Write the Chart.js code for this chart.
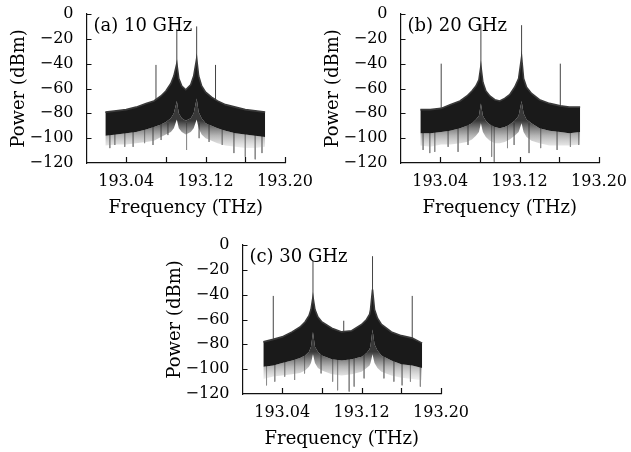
<!DOCTYPE html>
<html>
<head>
<meta charset="utf-8">
<script src="https://cdn.jsdelivr.net/npm/chart.js@4.4.1/dist/chart.umd.min.js"></script>
<style>
  html, body { margin: 0; padding: 0; background: #fff; overflow: hidden; }
  body { width: 631px; height: 452px; position: relative; }
  canvas { position: absolute; }
</style>
</head>
<body>
<canvas id="chartA" width="322" height="223" style="left:0px;top:0px"></canvas>
<canvas id="chartB" width="322" height="223" style="left:314px;top:0px"></canvas>
<canvas id="chartC" width="322" height="223" style="left:156px;top:231px"></canvas>
<script>
// (a) 10 GHz - envelope of the noisy spectrum
const freqA  = [193.019, 193.030, 193.040, 193.050, 193.060, 193.068, 193.075, 193.080, 193.085, 193.088, 193.091, 193.093, 193.096, 193.100, 193.105, 193.108, 193.111, 193.113, 193.116, 193.120, 193.126, 193.132, 193.140, 193.150, 193.160, 193.170, 193.180];
const upperA = [-79, -78, -77, -75, -72, -70, -66, -62, -56, -50, -40, -52, -58, -61, -57, -50, -36, -50, -58, -63, -67, -70, -73, -75, -77, -78, -79];
const lowerA = [-98, -97, -96, -95, -93, -91, -89, -87, -84, -80, -70, -80, -84, -86, -84, -80, -68, -79, -84, -88, -90, -92, -94, -96, -97, -98, -99];
const dipA   = [-106, -105, -105, -104, -103, -102, -99, -97, -95, -92, -85, -92, -95, -97, -95, -92, -85, -92, -97, -100, -102, -104, -106, -107, -108, -108, -107];
const spikeFreqA = [193.070, 193.091, 193.111, 193.130];
const spikeTopA  = [-41, -12, -10, -41];
const deepFreqA  = [193.0235, 193.0285, 193.0385, 193.047, 193.0585, 193.067, 193.0752, 193.082, 193.1008, 193.1135, 193.1235, 193.1368, 193.1485, 193.160, 193.170, 193.1768];
const deepA      = [-108, -105.5, -107, -107, -104, -105.5, -101.5, -97.5, -109.5, -100, -103, -105.5, -112, -115, -117, -112];

// (b) 20 GHz
const freqB  = [193.020, 193.030, 193.041, 193.050, 193.060, 193.067, 193.072, 193.076, 193.079, 193.081, 193.083, 193.086, 193.090, 193.095, 193.100, 193.105, 193.110, 193.115, 193.119, 193.122, 193.124, 193.127, 193.132, 193.140, 193.150, 193.161, 193.170, 193.181];
const upperB = [-77, -77, -76, -73, -70, -66, -62, -58, -53, -42, -55, -62, -66, -69, -70, -68, -65, -59, -52, -35, -52, -59, -64, -69, -72, -74, -75, -75];
const lowerB = [-96, -96, -95, -94, -92, -90, -88, -85, -82, -72, -82, -86, -89, -91, -92, -91, -89, -86, -82, -70, -80, -85, -88, -92, -94, -95, -96, -95];
const dipB   = [-106, -107, -105, -105, -104, -103, -101, -98, -95, -88, -95, -99, -102, -104, -104, -103, -101, -98, -95, -88, -95, -99, -102, -104, -106, -106, -106, -105];
const spikeFreqB = [193.041, 193.081, 193.122, 193.161];
const spikeTopB  = [-40, -8, -9, -40];
const deepFreqB  = [193.0228, 193.0295, 193.0345, 193.048, 193.058, 193.068, 193.0918, 193.0945, 193.1078, 193.1145, 193.1295, 193.1412, 193.1578, 193.1712, 193.1795];
const deepB      = [-109.5, -112, -111, -107, -111, -105.5, -115, -119, -108, -105.5, -112, -108, -109.5, -107, -105.5];

// (c) 30 GHz
const freqC  = [193.021, 193.031, 193.040, 193.050, 193.058, 193.063, 193.067, 193.069, 193.071, 193.073, 193.076, 193.080, 193.090, 193.100, 193.110, 193.120, 193.125, 193.128, 193.129, 193.131, 193.133, 193.136, 193.140, 193.150, 193.160, 193.171, 193.181];
const upperC = [-78, -76, -74, -70, -66, -62, -57, -52, -42, -52, -58, -62, -67, -70, -69, -64, -60, -56, -52, -36, -52, -59, -64, -70, -73, -75, -79];
const lowerC = [-98, -97, -95, -93, -91, -89, -86, -82, -70, -82, -86, -89, -92, -93, -92, -90, -87, -84, -81, -68, -80, -85, -89, -93, -96, -97, -99];
const dipC   = [-108, -106, -105, -104, -103, -101, -98, -95, -88, -95, -99, -101, -104, -105, -104, -102, -99, -97, -95, -88, -95, -99, -102, -105, -107, -108, -109];
const spikeFreqC = [193.031, 193.071, 193.102, 193.131, 193.171];
const spikeTopC  = [-41, -13, -61, -9, -41];
const deepFreqC  = [193.0242, 193.0325, 193.0425, 193.0525, 193.0625, 193.0792, 193.0908, 193.0958, 193.1075, 193.1125, 193.1225, 193.1425, 193.1525, 193.1608, 193.1692, 193.1792];
const deepC      = [-113, -110, -106, -108.7, -103.4, -103.4, -110, -117, -118, -114, -107.4, -107.4, -110, -113, -110, -114];

const labels = ['(a) 10 GHz', '(b) 20 GHz', '(c) 30 GHz'];
const yTicks = [0, -20, -40, -60, -80, -100, -120];
const xLabelled = ['193.04', '193.12', '193.20'];

Chart.defaults.font.family = "'DejaVu Serif', serif";
Chart.defaults.color = '#000';
Chart.defaults.animation = false;

const innerTicks = {
  id: 'innerTicks',
  afterDraw(chart) {
    const { ctx, chartArea: area, scales: { x, y } } = chart;
    ctx.save();
    ctx.strokeStyle = '#111';
    ctx.lineWidth = 1.2;
    ctx.beginPath();
    x.ticks.forEach(t => {
      if (t.value <= x.min + 1e-6) return;
      const px = Math.round(x.getPixelForValue(t.value)) + 0.5;
      ctx.moveTo(px, area.bottom);
      ctx.lineTo(px, area.bottom - 6);
    });
    y.ticks.forEach(t => {
      if (t.value <= y.min + 1e-6) return;
      const py = Math.round(y.getPixelForValue(t.value)) + 0.5;
      ctx.moveTo(area.left, py);
      ctx.lineTo(area.left + 5, py);
    });
    ctx.stroke();
    // panel label
    ctx.fillStyle = '#000';
    ctx.font = "18px 'DejaVu Serif', serif";
    ctx.textBaseline = 'alphabetic';
    ctx.fillText(chart.options.plugins.panelText, area.left + 7, area.top + 17);
    ctx.restore();
  }
};

function pts(xs, ys) {
  return xs.map((f, i) => ({ x: f, y: ys[i] }));
}

function lines(xs, from, to) {
  const out = [];
  xs.forEach((f, i) => {
    out.push({ x: f, y: Array.isArray(from) ? from[i] : from });
    out.push({ x: f, y: to[i] });
    out.push({ x: f, y: null });
  });
  return out;
}

// grey fringe under the dense band fades out downwards
function fringe(context) {
  const chart = context.chart;
  const { chartArea, scales } = chart;
  if (!chartArea) return 'rgba(80,80,80,0.4)';
  const g = chart.ctx.createLinearGradient(0, scales.y.getPixelForValue(-86), 0, scales.y.getPixelForValue(-110));
  g.addColorStop(0, 'rgba(35,35,35,0.9)');
  g.addColorStop(0.5, 'rgba(90,90,90,0.45)');
  g.addColorStop(1, 'rgba(160,160,160,0.1)');
  return g;
}

function makeChart(id, label, freq, upper, lower, dip, spikeF, spikeT, deepF, deepV) {
  // spikes start inside the dark band
  const spikeBase = spikeF.map(f => {
    let k = 0;
    freq.forEach((g, i) => { if (Math.abs(g - f) < Math.abs(freq[k] - f)) k = i; });
    return upper[k] - 3;
  });
  new Chart(document.getElementById(id), {
    type: 'line',
    data: {
      datasets: [
        { data: pts(freq, upper), borderColor: '#3a3a3a', borderWidth: 1.6, fill: '+1', backgroundColor: '#1a1a1a' },
        { data: pts(freq, lower), borderColor: 'rgba(0,0,0,0)', borderWidth: 0, fill: '+1', backgroundColor: fringe },
        { data: pts(freq, dip), borderColor: 'rgba(0,0,0,0)', borderWidth: 0, fill: false },
        { data: lines(deepF, -88, deepV), borderColor: '#8c8c8c', borderWidth: 1, fill: false, spanGaps: false },
        { data: lines(spikeF, spikeBase, spikeT), borderColor: '#444', borderWidth: 1, fill: false, spanGaps: false }
      ]
    },
    options: {
      responsive: false,
      elements: { point: { radius: 0 }, line: { tension: 0 } },
      layout: { padding: { left: 5, top: 14, right: 34, bottom: 0 } },
      plugins: { legend: { display: false }, tooltip: { enabled: false }, panelText: label },
      scales: {
        x: {
          type: 'linear',
          min: 193.0,
          max: 193.2,
          afterFit(scale) { scale.height = 60; },
          grid: { display: true, drawOnChartArea: false, drawTicks: false },
          border: { display: true, color: '#111', width: 1.2 },
          ticks: {
            stepSize: 0.04,
            autoSkip: false,
            maxRotation: 0,
            padding: 9,
            font: { size: 16 },
            callback: v => xLabelled.includes(v.toFixed(2)) ? v.toFixed(2) : ''
          },
          title: { display: true, text: 'Frequency (THz)', font: { size: 18 }, padding: { top: 0, bottom: 4 } }
        },
        y: {
          min: -120,
          max: 0,
          afterFit(scale) {
            scale.width = 81.5;
            scale.paddingTop = 0;
            scale.paddingBottom = 0;
          },
          afterBuildTicks(scale) { scale.ticks = yTicks.map(v => ({ value: v })); },
          grid: { display: true, drawOnChartArea: false, drawTicks: false },
          border: { display: true, color: '#111', width: 1.2 },
          ticks: {
            padding: 13,
            font: { size: 16 },
            callback: v => v < 0 ? '\u2212' + Math.abs(v) : String(v)
          },
          title: { display: true, text: 'Power (dBm)', font: { size: 18 }, padding: { top: 4, bottom: 0 } }
        }
      }
    },
    plugins: [innerTicks]
  });
}

makeChart('chartA', labels[0], freqA, upperA, lowerA, dipA, spikeFreqA, spikeTopA, deepFreqA, deepA);
makeChart('chartB', labels[1], freqB, upperB, lowerB, dipB, spikeFreqB, spikeTopB, deepFreqB, deepB);
makeChart('chartC', labels[2], freqC, upperC, lowerC, dipC, spikeFreqC, spikeTopC, deepFreqC, deepC);
</script>
</body>
</html>
